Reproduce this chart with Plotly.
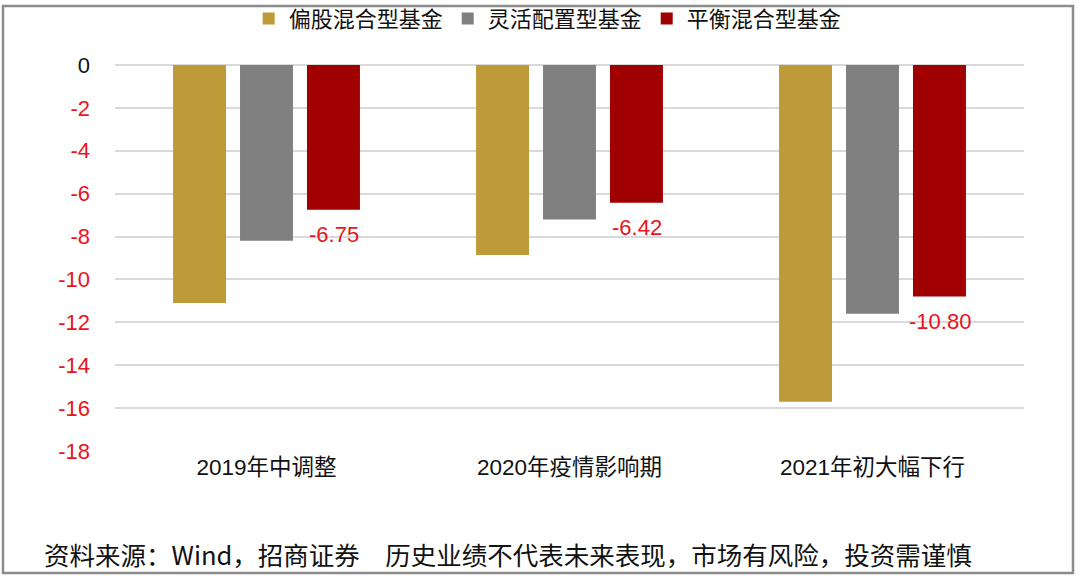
import plotly.graph_objects as go

categories = ["2019年中调整", "2020年疫情影响期", "2021年初大幅下行"]
series_names = ["偏股混合型基金", "灵活配置型基金", "平衡混合型基金"]
pg_values = [-11.1, -8.86, -15.7]      # 偏股混合型基金
lh_values = [-8.2, -7.2, -11.6]        # 灵活配置型基金
ph_values = [-6.75, -6.42, -10.80]     # 平衡混合型基金
colors = ["#BF9A38", "#808080", "#A00000"]
tick_vals = [0, -2, -4, -6, -8, -10, -12, -14, -16, -18]

footer = "资料来源：Wind，招商证券　历史业绩不代表未来表现，市场有风险，投资需谨慎"

fig = go.Figure()
for name, vals, col in zip(series_names, [pg_values, lh_values, ph_values], colors):
    fig.add_trace(go.Bar(
        x=categories, y=vals, name=name, marker=dict(color=col, line=dict(width=0)),
    ))

# value labels for 平衡混合型基金 (third bar of each group)
for cat, v in zip(categories, ph_values):
    fig.add_annotation(x=cat, y=v, xref="x", yref="y", text=f"{v:.2f}", showarrow=False,
                       xshift=67, yshift=-25, yanchor="middle", xanchor="center",
                       font=dict(color="#E8141C", size=22, family="Liberation Sans, Arial"))

tick_text = [str(v) if v == 0 else f'<span style="color:#E8141C">{v}</span>' for v in tick_vals]

fig.update_layout(
    width=1080, height=579,
    margin=dict(l=115, r=56, t=65, b=128, autoexpand=False),
    paper_bgcolor="white", plot_bgcolor="white",
    barmode="group", bargap=0.337, bargroupgap=0.209,
    font=dict(family="Liberation Sans, Noto Sans CJK SC, Arial", size=20, color="#111111"),
    legend=dict(orientation="h", x=0.476, y=1.12, xanchor="center", yanchor="middle",
                font=dict(size=22, family="Noto Sans CJK SC"), traceorder="normal",
                bgcolor="rgba(0,0,0,0)", itemwidth=30),
    xaxis=dict(showline=False, ticks="", tickfont=dict(size=22.5, family="Liberation Sans, Noto Sans CJK SC", color="#111111"),
               showgrid=False),
    yaxis=dict(range=[-18, 0], tickvals=tick_vals, ticktext=tick_text, showgrid=True,
               gridcolor="#D9D9D9", gridwidth=1.5, zeroline=True, zerolinecolor="#D9D9D9", zerolinewidth=1.5,
               showline=False, ticks="", ticklabelstandoff=24,
               tickfont=dict(size=22, family="Liberation Sans, Arial", color="#111111")),
    showlegend=True,
)

# outer frame
frame_x0, frame_x1 = (3 - 115) / 909, (1073 - 115) / 909
frame_y0, frame_y1 = (451 - 573) / 386, (451 - 6) / 386
fig.add_shape(type="rect", xref="paper", yref="paper",
              x0=frame_x0, x1=frame_x1, y0=frame_y0, y1=frame_y1,
              line=dict(color="#8C8C8C", width=2.5), fillcolor="rgba(0,0,0,0)", layer="above")

fig.add_annotation(text=footer, xref="paper", yref="paper",
                   x=(42 - 115) / 909, y=(451 - 553) / 386, xanchor="left", yanchor="middle",
                   showarrow=False, font=dict(size=25.5, family="Noto Sans CJK SC", color="#111111"))

fig.write_html("out.html", config={"displayModeBar": False},
               post_script="document.body.style.margin='0';document.body.style.overflow='hidden';")
